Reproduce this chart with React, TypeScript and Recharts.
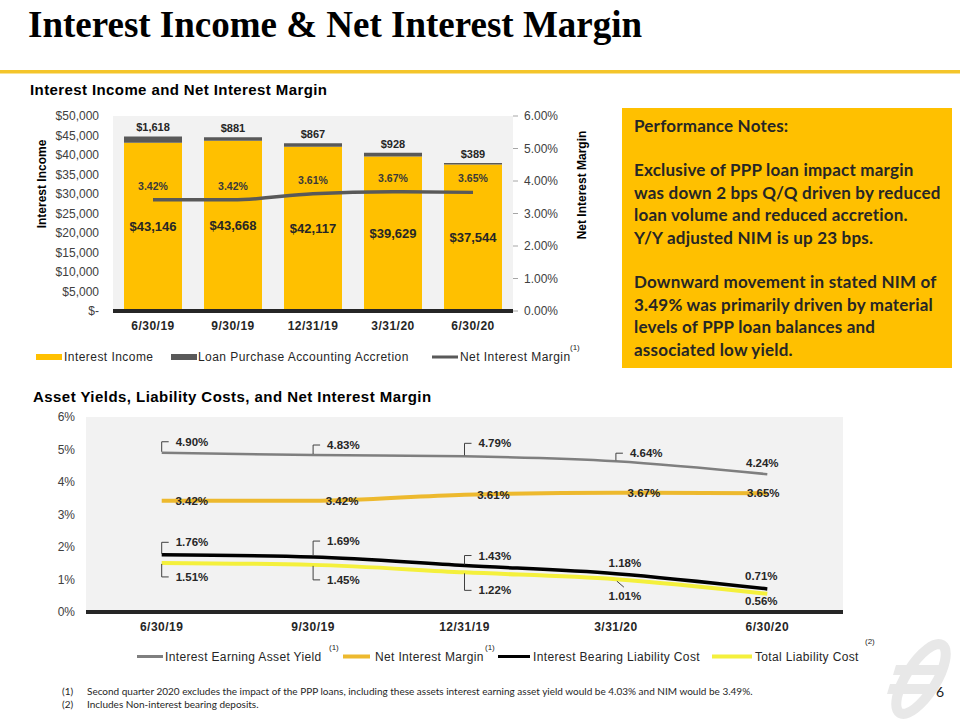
import React from "react";
import { ComposedChart, LineChart, Bar, Line, XAxis, YAxis, CartesianGrid, LabelList } from "recharts";

// ---------- data ----------
const categories = ["6/30/19", "9/30/19", "12/31/19", "3/31/20", "6/30/20"];
const interestIncome = [43146, 43668, 42117, 39629, 37544];
const accretion = [1618, 881, 867, 928, 389];
const nimTop = [3.42, 3.42, 3.61, 3.67, 3.65];
const incomeTicks = [0, 5000, 10000, 15000, 20000, 25000, 30000, 35000, 40000, 45000, 50000];
const nimTicks = [0, 1, 2, 3, 4, 5, 6];

const assetYield = [4.9, 4.83, 4.79, 4.64, 4.24];
const nimBottom = [3.42, 3.42, 3.61, 3.67, 3.65];
const iblCost = [1.76, 1.69, 1.43, 1.18, 0.71];
const totalLiabCost = [1.51, 1.45, 1.22, 1.01, 0.56];
const pctTicks = [0, 1, 2, 3, 4, 5, 6];

const notesLines = [
  "Performance Notes:",
  "",
  "Exclusive of PPP loan impact margin",
  "was down 2 bps Q/Q driven by reduced",
  "loan volume and reduced accretion.",
  "Y/Y adjusted NIM is up 23 bps.",
  "",
  "Downward movement in stated NIM of",
  "3.49% was primarily driven by material",
  "levels of PPP loan balances and",
  "associated low yield.",
];

const footnotes = [
  ["(1)", "Second quarter 2020 excludes the impact of the PPP loans, including these assets interest earning asset yield would be 4.03% and NIM would be 3.49%."],
  ["(2)", "Includes Non-interest bearing deposits."],
];

const chart1Data = categories.map((c, i) => ({
  cat: c,
  income: interestIncome[i],
  accretion: accretion[i],
  nim: nimTop[i],
}));

const chart2Data = categories.map((c, i) => ({
  cat: c,
  ay: assetYield[i],
  nim: nimBottom[i],
  iblc: iblCost[i],
  tlc: totalLiabCost[i],
}));

// ---------- styling ----------
const SANS = "'Liberation Sans', Arial, sans-serif";
const YELLOW = "#FFC000";
const DARK = "#595959";
const GOLD = "#EDB92E";
const BRIGHT_YELLOW = "#F4F03C";
const GRAY = "#7F7F7F";

const fmtDollar = (v: number) => (v === 0 ? "$-" : "$" + Number(v).toLocaleString("en-US"));
const fmtPct2 = (v: number) => Number(v).toFixed(2) + "%";

type LabelCfg = { kind: "up" | "down" | "diag" | "none"; dx?: number; dy: number };

const grayCfg: LabelCfg[] = [
  { kind: "up", dy: -11 },
  { kind: "up", dy: -10 },
  { kind: "up", dy: -13 },
  { kind: "up", dy: -8 },
  { kind: "none", dx: -5, dy: -11 },
];
const goldCfg: LabelCfg[] = [
  { kind: "none", dx: 30, dy: 0 },
  { kind: "none", dx: 29, dy: 0 },
  { kind: "none", dx: 29, dy: 0 },
  { kind: "none", dx: 28, dy: 0 },
  { kind: "none", dx: -4, dy: 0 },
];
const blackCfg: LabelCfg[] = [
  { kind: "up", dy: -12.5 },
  { kind: "up", dy: -16 },
  { kind: "up", dy: -10 },
  { kind: "none", dx: 9, dy: -11 },
  { kind: "none", dx: -6, dy: -13 },
];
const yellowCfg: LabelCfg[] = [
  { kind: "down", dy: 14 },
  { kind: "down", dy: 15 },
  { kind: "down", dy: 18 },
  { kind: "diag", dx: 9, dy: 17 },
  { kind: "none", dx: -6, dy: 7 },
];

const makeLabel = (cfgs: LabelCfg[]) => (props: any) => {
  const { x, y, value, index } = props;
  const c = cfgs[index];
  if (!c || x == null || y == null) return null;
  const txt = fmtPct2(value);
  const style: React.CSSProperties = { fontSize: 11.5, fontWeight: 700, fill: "#262626", fontFamily: SANS };
  if (c.kind === "up" || c.kind === "down") {
    const ty = y + c.dy;
    const y0 = c.kind === "up" ? y - 1 : y + 1;
    return (
      <g>
        <path d={`M${x},${y0}V${ty}H${x + 7}`} stroke="#404040" fill="none" strokeWidth={1} />
        <text x={x + 14} y={ty} dominantBaseline="central" textAnchor="start" style={style}>
          {txt}
        </text>
      </g>
    );
  }
  if (c.kind === "diag") {
    return (
      <g>
        <path d={`M${x + 1},${y + 2}L${x + 8},${y + 8}`} stroke="#404040" fill="none" strokeWidth={1} />
        <text x={x + (c.dx || 0)} y={y + c.dy} dominantBaseline="central" textAnchor="middle" style={style}>
          {txt}
        </text>
      </g>
    );
  }
  return (
    <text x={x + (c.dx || 0)} y={y + c.dy} dominantBaseline="central" textAnchor="middle" style={style}>
      {txt}
    </text>
  );
};

const Overlay = () => (
  <svg width={960} height={720} style={{ position: "absolute", left: 0, top: 0 }}>
    {/* title */}
    <text x={28} y={37} style={{ fontFamily: "'Liberation Serif', 'Times New Roman', serif", fontWeight: 700, fontSize: 37, fill: "#000" }}>
      Interest Income &amp; Net Interest Margin
    </text>
    <rect x={0} y={70} width={960} height={3.5} fill="#F4C52A" />
    <text x={30} y={95} style={{ fontFamily: SANS, fontWeight: 700, fontSize: 15, fill: "#000", letterSpacing: 0.4 }}>
      Interest Income and Net Interest Margin
    </text>
    <text x={33} y={402} style={{ fontFamily: SANS, fontWeight: 700, fontSize: 15, fill: "#000", letterSpacing: 0.45 }}>
      Asset Yields, Liability Costs, and Net Interest Margin
    </text>

    {/* axis titles chart 1 */}
    <text x={42} y={184} transform="rotate(-90 42 184)" textAnchor="middle" dominantBaseline="central" style={{ fontFamily: SANS, fontWeight: 700, fontSize: 12, fill: "#000" }}>
      Interest Income
    </text>
    <text x={582} y={185} transform="rotate(-90 582 185)" textAnchor="middle" dominantBaseline="central" style={{ fontFamily: SANS, fontWeight: 700, fontSize: 12, fill: "#000" }}>
      Net Interest Margin
    </text>

    {/* legend chart 1 */}
    <g style={{ fontFamily: SANS, fontSize: 12, fill: "#262626", letterSpacing: 0.45 }}>
      <rect x={36} y={354} width={26} height={6} fill={YELLOW} />
      <text x={64} y={357} dominantBaseline="central">Interest Income</text>
      <rect x={171} y={354} width={26} height={6} fill={DARK} />
      <text x={198} y={357} dominantBaseline="central">Loan Purchase Accounting Accretion</text>
      <rect x={432} y={355.5} width={26} height={3} fill={DARK} />
      <text x={460} y={357} dominantBaseline="central">Net Interest Margin</text>
      <text x={570} y={350} style={{ fontSize: 8, letterSpacing: 0 }}>(1)</text>
    </g>

    {/* notes box */}
    <rect x={622} y={108} width={330} height={260} fill={YELLOW} />
    <g style={{ fontFamily: "Lato, 'Open Sans', sans-serif", fontWeight: 700, fontSize: 17, fill: "#262626", letterSpacing: 0.2 }}>
      {notesLines.map((l, i) => (
        <text key={i} x={634} y={125 + i * 22.4} dominantBaseline="central">
          {l}
        </text>
      ))}
    </g>

    {/* legend chart 2 */}
    <g style={{ fontFamily: SANS, fontSize: 12, fill: "#262626", letterSpacing: 0.35 }}>
      <rect x={137} y={655} width={26} height={3} fill={GRAY} />
      <text x={165} y={656.5} dominantBaseline="central">Interest Earning Asset Yield</text>
      <text x={329} y={650} style={{ fontSize: 8, letterSpacing: 0 }}>(1)</text>
      <rect x={343} y={654.5} width={27} height={4} fill={GOLD} />
      <text x={375} y={656.5} dominantBaseline="central">Net Interest Margin</text>
      <text x={485} y={650} style={{ fontSize: 8, letterSpacing: 0 }}>(1)</text>
      <rect x={498} y={655} width={32} height={3} fill="#000" />
      <text x={533} y={656.5} dominantBaseline="central">Interest Bearing Liability Cost</text>
      <rect x={712} y={654.5} width={40} height={4} fill={BRIGHT_YELLOW} />
      <text x={755} y={656.5} dominantBaseline="central">Total Liability Cost</text>
      <text x={865} y={644} style={{ fontSize: 8, letterSpacing: 0 }}>(2)</text>
    </g>

    {/* logo */}
    <g fill="#E8E8E8" stroke="none">
      <ellipse cx={921} cy={679} rx={15} ry={40} transform="rotate(32 921 679)" fill="none" stroke="#E8E8E8" strokeWidth={10} />
      <polygon points="896,665 940,665 937,675 893,675" />
      <polygon points="890,684 934,684 931,694 887,694" />
    </g>

    {/* footnotes */}
    <g style={{ fontFamily: "Lato, 'Open Sans', sans-serif", fontSize: 10, fill: "#262626" }}>
      {footnotes.map((f, i) => (
        <g key={i}>
          <text x={62} y={691 + i * 12.5} dominantBaseline="central">{f[0]}</text>
          <text x={87} y={691 + i * 12.5} dominantBaseline="central">{f[1]}</text>
        </g>
      ))}
    </g>
    <text x={936} y={697} style={{ fontFamily: "Lato, sans-serif", fontSize: 14, fill: "#222" }}>6</text>
  </svg>
);

export default function App() {
  return (
    <div style={{ position: "absolute", left: 0, top: 0, width: 960, height: 720, background: "#fff", fontFamily: SANS, overflow: "hidden" }}>
      <Overlay />

      {/* Chart 1 */}
      <div style={{ position: "absolute", left: 0, top: 100 }}>
        <ComposedChart width={600} height={240} data={chart1Data} margin={{ top: 16, right: 27, bottom: 4, left: 53 }}>
          <CartesianGrid yAxisId="left" fill="#F2F2F2" horizontal={false} vertical={false} stroke="none" />
          <XAxis
            dataKey="cat"
            axisLine={{ stroke: "#262626", strokeWidth: 4 }}
            tickLine={false}
            tickSize={6}
            tickMargin={4}
            height={25}
            tick={{ fontSize: 12, fontWeight: 700, fill: "#262626", letterSpacing: 0.5 }}
          />
          <YAxis
            yAxisId="left"
            width={60}
            domain={[0, 50000]}
            ticks={incomeTicks}
            tickFormatter={fmtDollar}
            axisLine={false}
            tickLine={false}
            tickSize={6}
            tickMargin={8}
            tick={{ fontSize: 12, fill: "#404040" }}
            interval={0}
          />
          <YAxis
            yAxisId="right"
            orientation="right"
            width={60}
            domain={[0, 6]}
            ticks={nimTicks}
            tickFormatter={fmtPct2}
            axisLine={false}
            tickLine={{ stroke: "#A6A6A6" }}
            tickSize={5}
            tickMargin={6}
            tick={{ fontSize: 12, fill: "#404040" }}
            interval={0}
          />
          <Bar yAxisId="left" dataKey="income" stackId="a" fill={YELLOW} barSize={58} isAnimationActive={false}>
            <LabelList dataKey="income" position="center" formatter={(v: any) => fmtDollar(v)} style={{ fontSize: 13, fontWeight: 700, fill: "#262626" }} />
          </Bar>
          <Bar yAxisId="left" dataKey="accretion" stackId="a" fill={DARK} barSize={58} isAnimationActive={false}>
            <LabelList dataKey="accretion" position="top" offset={5} formatter={(v: any) => fmtDollar(v)} style={{ fontSize: 11, fontWeight: 700, fill: "#262626" }} />
          </Bar>
          <Line yAxisId="right" dataKey="nim" type="monotone" stroke={DARK} strokeWidth={3.5} dot={false} isAnimationActive={false}>
            <LabelList dataKey="nim" position="top" offset={10} formatter={(v: any) => fmtPct2(v)} style={{ fontSize: 10.5, fontWeight: 700, fill: "#3a3a3a" }} />
          </Line>
        </ComposedChart>
      </div>

      {/* Chart 2 */}
      <div style={{ position: "absolute", left: 0, top: 405 }}>
        <LineChart width={870} height={235} data={chart2Data} margin={{ top: 12, right: 27, bottom: 3, left: 36 }}>
          <CartesianGrid fill="#F2F2F2" horizontal={false} vertical={false} stroke="none" />
          <XAxis
            dataKey="cat"
            scale="band"
            axisLine={{ stroke: "#262626", strokeWidth: 4 }}
            tickLine={false}
            tickSize={6}
            tickMargin={4}
            height={25}
            tick={{ fontSize: 12, fontWeight: 700, fill: "#262626", letterSpacing: 0.5 }}
          />
          <YAxis
            width={50}
            domain={[0, 6]}
            ticks={pctTicks}
            tickFormatter={(v: number) => v + "%"}
            axisLine={false}
            tickLine={false}
            tickSize={6}
            tickMargin={5}
            tick={{ fontSize: 12, fill: "#404040" }}
            interval={0}
          />
          <Line dataKey="ay" type="monotone" stroke={GRAY} strokeWidth={2.5} dot={false} isAnimationActive={false}>
            <LabelList dataKey="ay" content={makeLabel(grayCfg)} />
          </Line>
          <Line dataKey="nim" type="monotone" stroke={GOLD} strokeWidth={4} dot={false} isAnimationActive={false}>
            <LabelList dataKey="nim" content={makeLabel(goldCfg)} />
          </Line>
          <Line dataKey="tlc" type="monotone" stroke={BRIGHT_YELLOW} strokeWidth={4} dot={false} isAnimationActive={false}>
            <LabelList dataKey="tlc" content={makeLabel(yellowCfg)} />
          </Line>
          <Line dataKey="iblc" type="monotone" stroke="#000" strokeWidth={3.5} dot={false} isAnimationActive={false}>
            <LabelList dataKey="iblc" content={makeLabel(blackCfg)} />
          </Line>
        </LineChart>
      </div>
    </div>
  );
}
